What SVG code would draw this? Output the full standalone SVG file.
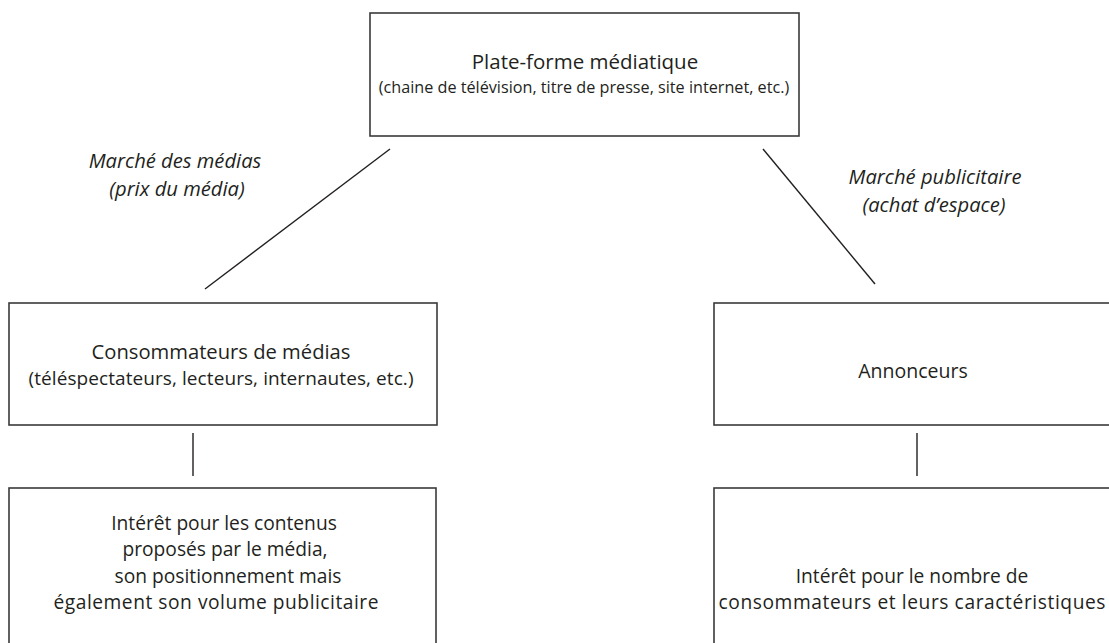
<svg xmlns="http://www.w3.org/2000/svg" width="1109" height="643" viewBox="0 0 1109 643">
<style>
.box{fill:#fff;stroke:#3a3a3a;stroke-width:1.6}
.t{font-family:"Open Sans","Liberation Sans",sans-serif;fill:#231f20;text-anchor:middle;font-size:19.2px}
.i{font-family:"Open Sans","Liberation Sans",sans-serif;font-style:italic;fill:#231f20;text-anchor:middle;font-size:20.2px}
.ln{stroke:#231f20;stroke-width:1.4;fill:none}
</style>
<rect width="1109" height="643" fill="#fff"/>
<g id="connectors">
<line class="ln" x1="390" y1="149" x2="205" y2="289"/>
<line class="ln" x1="763" y1="149" x2="875" y2="284"/>
<line class="ln" x1="193" y1="433" x2="193" y2="476"/>
<line class="ln" x1="917" y1="433" x2="917" y2="476"/>
</g>
<g id="label-medias">
<text class="i" x="175" y="168">Marché des médias</text>
<text class="i" x="177" y="196">(prix du média)</text>
</g>
<g id="label-pub">
<text class="i" x="935" y="184">Marché publicitaire</text>
<text class="i" x="934" y="212">(achat d’espace)</text>
</g>
<g id="plateforme">
<rect class="box" x="370" y="13" width="429" height="123"/>
<text class="t" x="585" y="69" style="font-size:20.5px">Plate-forme médiatique</text>
<text class="t" x="584" y="93" style="font-size:16.2px">(chaine de télévision, titre de presse, site internet, etc.)</text>
</g>
<g id="consommateurs">
<rect class="box" x="9" y="303" width="428" height="122"/>
<text class="t" x="221" y="359" style="font-size:20.2px">Consommateurs de médias</text>
<text class="t" x="221" y="384.5" style="font-size:19px" textLength="385">(téléspectateurs, lecteurs, internautes, etc.)</text>
</g>
<g id="annonceurs">
<rect class="box" x="714" y="303" width="420" height="122"/>
<text class="t" x="913" y="378" style="font-size:19.5px">Annonceurs</text>
</g>
<g id="interet-contenus">
<rect class="box" x="9" y="488" width="427" height="200"/>
<text class="t" x="224" y="530">Intérêt pour les contenus</text>
<text class="t" x="225" y="556">proposés par le média,</text>
<text class="t" x="228" y="583">son positionnement mais</text>
<text class="t" x="216" y="609" textLength="325">également son volume publicitaire</text>
</g>
<g id="interet-nombre">
<rect class="box" x="714" y="488" width="420" height="200"/>
<text class="t" x="912" y="583">Intérêt pour le nombre de</text>
<text class="t" x="912" y="609" textLength="387">consommateurs et leurs caractéristiques</text>
</g>
</svg>
